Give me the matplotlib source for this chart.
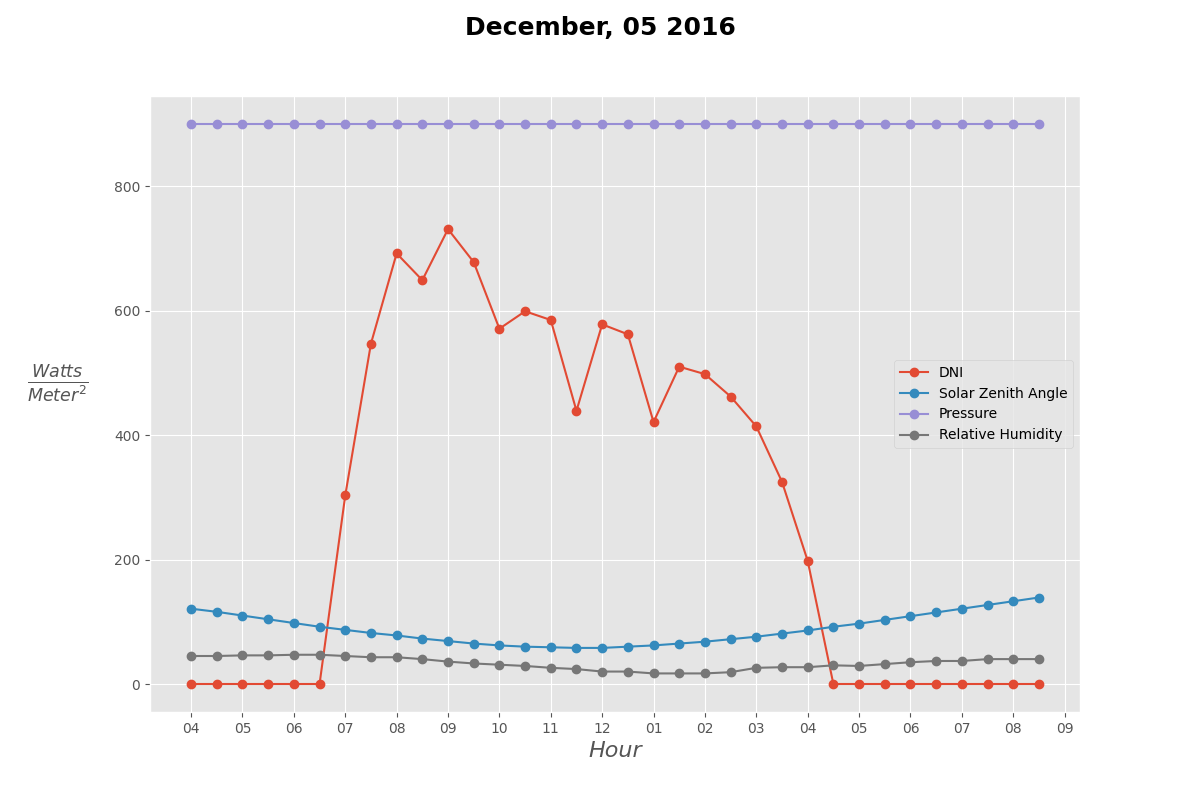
import numpy as np
import matplotlib
matplotlib.use("Agg")
import matplotlib.pyplot as plt
from matplotlib.ticker import FuncFormatter

plt.style.use("ggplot")

hours = np.arange(4, 21, 0.5)  # 04:00 .. 20:30
dni = [0, 0, 0, 0, 0, 0, 303, 547, 692, 649, 731, 678, 571, 599, 585, 439, 578,
       562, 421, 510, 498, 462, 414, 325, 198, 0, 0, 0, 0, 0, 0, 0, 0, 0]
sza = [121, 116, 110, 104, 98, 92, 87, 82, 78, 73, 69, 65, 62, 60, 59, 58, 58,
       60, 62, 65, 68, 72, 76, 81, 86, 92, 97, 103, 109, 115, 121, 127, 133, 139]
pressure = [900] * 34
humidity = [45, 45, 46, 46, 47, 47, 45, 43, 43, 40, 36, 33, 31, 29, 26, 24, 20,
            20, 17, 17, 17, 19, 26, 27, 27, 30, 29, 32, 35, 37, 37, 40, 40, 40]

fig, ax = plt.subplots(figsize=(12, 8), dpi=100)
fig.subplots_adjust(left=0.125, right=0.9, top=0.88, bottom=0.11)

ax.plot(hours, dni, "o-", label="DNI")
ax.plot(hours, sza, "o-", label="Solar Zenith Angle")
ax.plot(hours, pressure, "o-", color="#988ED5", label="Pressure")
ax.plot(hours, humidity, "o-", color="#777777", label="Relative Humidity")

ax.set_xticks(np.arange(4, 22, 1))
ax.xaxis.set_major_formatter(FuncFormatter(lambda v, p: "%02d" % ((int(round(v)) - 1) % 12 + 1)))
ax.set_xlim(3.2, 21.3)
ax.set_yticks([0, 200, 400, 600, 800])

ax.set_xlabel("Hour", fontsize=16, style="italic")
ax.set_ylabel(r"$\frac{Watts}{Meter^2}$", fontsize=18, rotation=0, labelpad=40)
fig.suptitle("December, 05 2016", fontsize=18, fontweight="bold")
ax.legend(loc="center right", facecolor="#E5E5E5")

fig.savefig("out.png")
